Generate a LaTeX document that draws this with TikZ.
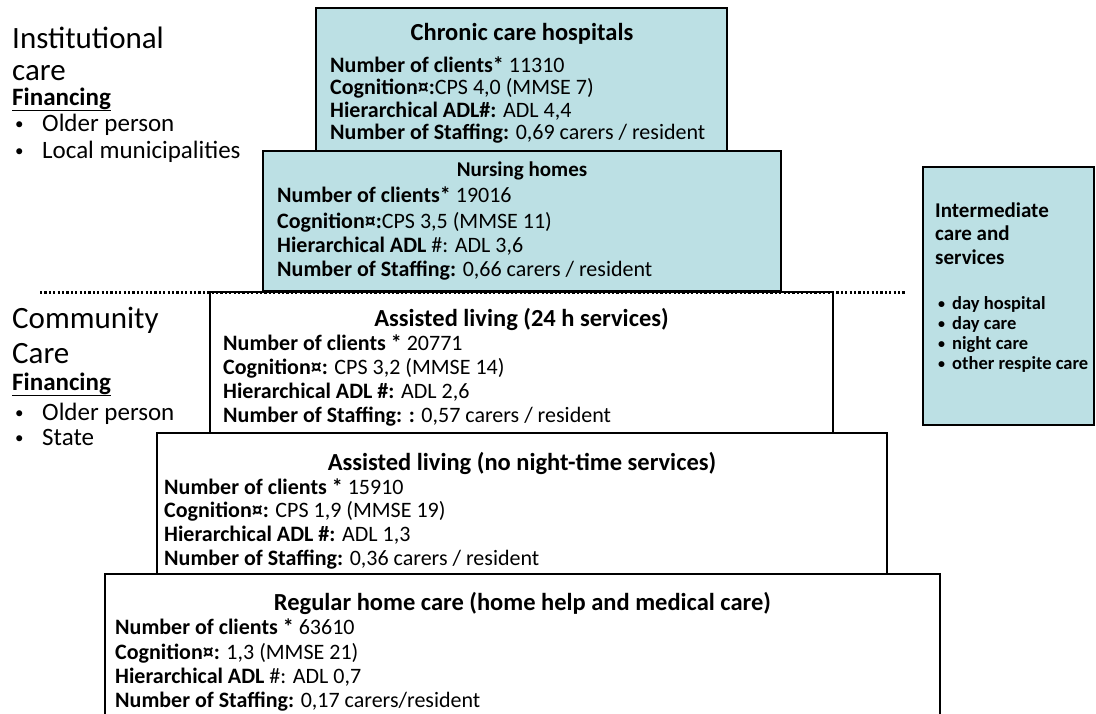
\documentclass[tikz,border=0pt]{standalone}
\usepackage{fontspec}
\setmainfont{Carlito}
\definecolor{boxblue}{RGB}{188,224,228}
\begin{document}
\begin{tikzpicture}[x=1pt,y=-1pt,
  stage/.style={draw=black, line width=1.8pt, inner sep=0pt},
  inst/.style={stage, fill=boxblue},
  comm/.style={stage, fill=white},
  side/.style={draw=black, line width=1.4pt, fill=boxblue, inner sep=0pt},
  ttl/.style={font=\fontsize{24.5}{28}\selectfont\bfseries, anchor=base, inner sep=0pt},
  row/.style={font=\fontsize{22}{25}\selectfont, anchor=base west, inner sep=0pt},
  big/.style={font=\fontsize{31}{36}\selectfont, anchor=base west, inner sep=0pt},
  fin/.style={font=\fontsize{25}{30}\selectfont\bfseries, anchor=base west, inner sep=0pt},
  lst/.style={font=\fontsize{25}{30}\selectfont, anchor=base west, inner sep=0pt},
  dot/.style={font=\fontsize{17}{20}\selectfont, anchor=base west, inner sep=0pt},
  ihead/.style={font=\fontsize{21}{24}\selectfont\bfseries, anchor=base west, inner sep=0pt},
  ilst/.style={font=\fontsize{18.5}{22}\selectfont\bfseries, anchor=base west, inner sep=0pt},
  idot/.style={font=\fontsize{14}{16}\selectfont\bfseries, anchor=base west, inner sep=0pt},
  divider/.style={line width=3pt, dash pattern=on 2.2pt off 2.2pt}]
\useasboundingbox (0,0) rectangle (1096,713);

% ---------- boxes ----------
\node[inst, minimum width=411pt, minimum height=143pt] (chronic) at (521.5,79.5) {};
\node[inst, minimum width=518pt, minimum height=140pt] (nursing) at (522,221) {};
\node[comm, minimum width=623pt, minimum height=141pt] (assist24) at (521.5,362.5) {};
\node[comm, minimum width=730pt, minimum height=141pt] (assistday) at (522,503.5) {};
\node[comm, minimum width=835pt, minimum height=166pt] (homecare) at (522.5,657) {};
\node[side, minimum width=171pt, minimum height=258pt] (inter) at (1008.5,296) {};

% ---------- divider ----------
\coordinate (dl) at (40,292);
\coordinate (dr) at (905,292);
\draw[divider] (dl) -- (dr);

% ---------- chronic care hospitals ----------
\node[ttl] (t1) at (522,40) {Chronic care hospitals};
\node[row] (c1a) at (330,72) {\textbf{Number of clients*} 11310};
\node[row] (c1b) at (330,94) {\textbf{Cognition¤:}CPS 4,0 (MMSE 7)};
\node[row] (c1c) at (330,117) {\textbf{Hierarchical ADL\#:} ADL 4,4};
\node[row] (c1d) at (330,139) {\textbf{Number of Staffing:} 0,69 carers / resident};

% ---------- nursing homes ----------
\node[ttl, font=\fontsize{21}{24}\selectfont\bfseries] (t2) at (522,176) {Nursing homes};
\node[row] (c2a) at (277,202) {\textbf{Number of clients*} 19016};
\node[row] (c2b) at (277,228) {\textbf{Cognition¤:}CPS 3,5 (MMSE 11)};
\node[row] (c2c) at (277,252) {\textbf{Hierarchical ADL} \#: ADL 3,6};
\node[row] (c2d) at (277,276) {\textbf{Number of Staffing:} 0,66 carers / resident};

% ---------- assisted living 24 h ----------
\node[ttl] (t3) at (521.5,326) {Assisted living (24 h services)};
\node[row] (c3a) at (223,350) {\textbf{Number of clients *} 20771};
\node[row] (c3b) at (223,374) {\textbf{Cognition¤:} CPS 3,2 (MMSE 14)};
\node[row] (c3c) at (223,398) {\textbf{Hierarchical ADL \#:} ADL 2,6};
\node[row] (c3d) at (223,422) {\textbf{Number of Staffing: :} 0,57 carers / resident};

% ---------- assisted living no night ----------
\node[ttl] (t4) at (522,470) {Assisted living (no night-time services)};
\node[row] (c4a) at (164,494) {\textbf{Number of clients *} 15910};
\node[row] (c4b) at (164,517) {\textbf{Cognition¤:} CPS 1,9 (MMSE 19)};
\node[row] (c4c) at (164,541) {\textbf{Hierarchical ADL \#:} ADL 1,3};
\node[row] (c4d) at (164,565) {\textbf{Number of Staffing:} 0,36 carers / resident};

% ---------- regular home care ----------
\node[ttl] (t5) at (522.5,610) {Regular home care (home help and medical care)};
\node[row] (c5a) at (115,634) {\textbf{Number of clients *} 63610};
\node[row] (c5b) at (115,659) {\textbf{Cognition¤:} 1,3 (MMSE 21)};
\node[row] (c5c) at (115,683) {\textbf{Hierarchical ADL} \#: ADL 0,7};
\node[row] (c5d) at (115,707) {\textbf{Number of Staffing:} 0,17 carers/resident};

% ---------- institutional care ----------
\node[big] (inst1) at (12,48) {Institutional};
\node[big] (inst2) at (12,80) {care};
\node[fin] (fin1) at (12,105) {\underline{Financing}};
\node[dot] (b1a) at (15,129) {•};
\node[lst] (l1a) at (42,131) {Older person};
\node[dot] (b1b) at (15,156) {•};
\node[lst] (l1b) at (42,158) {Local municipalities};

% ---------- community care ----------
\node[big] (com1) at (12,328) {Community};
\node[big] (com2) at (12,363) {Care};
\node[fin] (fin2) at (12,390) {\underline{Financing}};
\node[dot] (b2a) at (15,418) {•};
\node[lst] (l2a) at (42,420) {Older person};
\node[dot] (b2b) at (15,443) {•};
\node[lst] (l2b) at (42,445) {State};

% ---------- intermediate care ----------
\node[ihead] (ih1) at (935,217) {Intermediate};
\node[ihead] (ih2) at (935,240) {care and};
\node[ihead] (ih3) at (935,264) {services};
\node[idot] (ib1) at (938,308) {•};
\node[ilst] (il1) at (952,309) {day hospital};
\node[idot] (ib2) at (938,328) {•};
\node[ilst] (il2) at (952,329) {day care};
\node[idot] (ib3) at (938,348) {•};
\node[ilst] (il3) at (952,349) {night care};
\node[idot] (ib4) at (938,368) {•};
\node[ilst] (il4) at (952,369) {other respite care};
\end{tikzpicture}
\end{document}
